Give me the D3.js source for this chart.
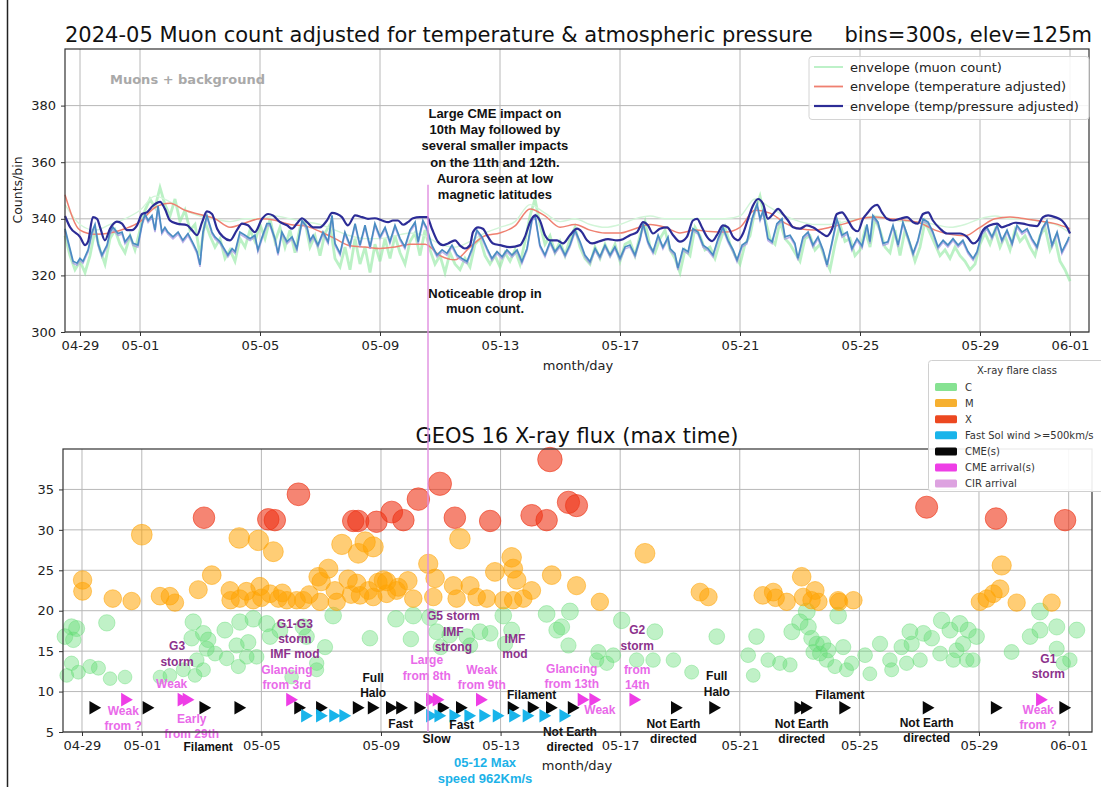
<!DOCTYPE html>
<html>
<head>
<meta charset="utf-8">
<script src="https://cdn.jsdelivr.net/npm/d3@7"></script>
<style>
body{margin:0;background:#fff;}
text{font-family:"DejaVu Sans",sans-serif;}
.ann{font-family:"Liberation Sans",Arial,sans-serif;font-weight:bold;}
</style>
</head>
<body>
<script>
// time axis: day offsets from 2024-04-29 00:00 UTC
var t0=Date.UTC(2024,3,29);
function day(d){return new Date(t0+d*864e5);}

var tickDays=[0,2,6,10,14,18,22,26,30,33];
var topTicks=[300,320,340,360,380];
var botTicks=[5,10,15,20,25,30,35];

// ---------- muon data (top) ----------
// raw muon count, every 4 h from 04-28 12:00
var greenRaw=[334,327,322,325,321,327,336,329,324,333,
336,331,328,334,329,336,343,347,344,351,
345,341,347,339,343,336,338,327,339,334,
330,333,326,329,325,333,330,336,332,338,
333,340,332,337,330,336,328,337,339,330,
334,327,335,338,326,323,330,322,333,324,
330,321,331,325,333,326,334,328,324,332,
335,327,336,329,324,327,321,328,324,322,
326,323,331,333,327,324,327,323,328,325,
329,324,332,341,347,338,331,334,328,332,
327,333,337,330,326,324,330,326,331,327,
331,325,331,332,327,334,339,330,328,333,
336,329,326,321,329,327,337,334,329,330,
326,332,337,331,327,324,331,334,343,348,
340,333,331,339,333,331,328,325,333,334,
329,331,326,322,331,338,332,333,327,329,
336,330,340,336,330,328,336,327,336,331,
325,330,339,335,331,327,329,326,330,327,
325,322,324,331,335,331,336,330,334,329,
336,332,334,330,327,334,337,329,333,325,
322,318];
// envelopes, every 12 h from 04-28 12:00
var greenEnv=[345,338,336,338,340,343,348,346,343,341,340,339,340,340,341,340,339,338,336,334,
333,333,334,335,334,331,330,332,335,337,339,345,342,339,340,338,337,338,340,341,
340,340,340,340,340,341,347,344,341,339,338,338,339,340,341,340,339,339,338,337,
338,340,341,340,340,339,338,335];
var tempEnv=[348.5,336,334.5,335,336.5,339,344,345.5,343,341.5,340,337,338.5,340,339.5,338,337.5,335.5,333,330.5,
330,329.5,330,331,331,327,325.5,330,334,335,337.5,343.5,341,337,338,336,335,335,336.5,338,
337,335,336,335.5,335.3,337,343,342,338.5,336.5,336,337,338.3,340,340.6,340,339.5,338.5,336,334.5,
334,337,340,340.6,340,339.2,338.3,336.5];
// temp/pressure adjusted envelope [day, count]
var tpEnv=[[-0.5,341],[-0.33,337],[0,333.6],[0.17,330.7],[0.27,332],[0.43,340.6],[0.57,340],[0.67,337],[0.83,332.4],[1.0,336.5],[1.23,339],[1.4,338.3],[1.57,336],[1.73,336],[1.9,337.7],[2.07,341.7],[2.23,342.3],[2.43,344.6],[2.67,346],[2.83,343.5],[3.0,339.4],[3.23,338.3],[3.57,337.7],[3.73,336],[3.9,334.2],[4.07,338.8],[4.23,342.6],[4.4,341.7],[4.57,336.5],[4.77,333.6],[5.0,332.4],[5.23,336],[5.4,338.3],[5.6,337.7],[5.83,335.3],[6.07,340],[6.27,341.7],[6.43,341.2],[6.67,338.8],[6.9,337.7],[7.07,336.5],[7.23,338.3],[7.4,340.2],[7.57,338.8],[7.77,337],[8.0,337],[8.23,339.4],[8.4,342.1],[8.57,341.7],[8.73,340.6],[8.93,337.7],[9.17,341.2],[9.4,340.6],[9.6,340],[9.83,340.2],[10.07,339.4],[10.27,338.8],[10.43,339.4],[10.6,339.4],[10.77,337.9],[10.93,338.8],[11.1,340.2],[11.33,340.6],[11.57,340.6],[11.73,336.5],[11.93,331.9],[12.1,330.7],[12.27,331.3],[12.5,332.4],[12.67,330.5],[12.83,329.5],[13.0,330.7],[13.1,335.3],[13.27,337],[13.43,336.5],[13.6,333.6],[13.77,331.3],[14.0,330.7],[14.33,330],[14.67,330.7],[14.83,333.6],[15.0,338.8],[15.17,341.2],[15.33,339.4],[15.5,334.2],[15.67,332.4],[15.9,332.4],[16.1,331.3],[16.33,334.2],[16.57,336.5],[16.73,335.3],[16.9,332.4],[17.07,331.3],[17.33,332.1],[17.6,332.8],[17.9,332.4],[18.1,332.8],[18.33,334.2],[18.57,335.3],[18.77,338.8],[18.93,337.7],[19.1,334.8],[19.33,336.5],[19.57,337],[19.77,334.2],[20.0,331.9],[20.23,333.6],[20.43,339.4],[20.57,340],[20.73,337],[20.9,333.6],[21.07,332.1],[21.23,334.2],[21.43,337.7],[21.6,337],[21.77,333.6],[21.93,332.4],[22.1,334.8],[22.27,340],[22.43,344.6],[22.6,347],[22.77,345.2],[22.93,340],[23.1,341.7],[23.27,343.5],[23.43,341.7],[23.6,339.4],[23.77,337],[24.0,336.5],[24.23,337.7],[24.43,337],[24.67,335.3],[24.9,333.9],[25.07,336.5],[25.23,341.7],[25.4,342.3],[25.57,340],[25.77,336.5],[25.93,335.6],[26.1,340],[26.27,342.3],[26.4,344],[26.57,344.9],[26.73,342.3],[26.9,340],[27.1,339.4],[27.33,340],[27.57,340.6],[27.77,338.8],[27.93,338.3],[28.1,341.7],[28.27,342.3],[28.43,339.4],[28.67,336.5],[28.9,334.8],[29.1,334.8],[29.33,334.8],[29.57,333.6],[29.77,331.3],[29.93,332.4],[30.1,336],[30.33,337.7],[30.57,338.3],[30.73,337],[30.93,337.7],[31.17,338.6],[31.43,338.3],[31.67,337.7],[31.9,337.4],[32.1,340.6],[32.27,341.2],[32.5,340.6],[32.73,339.4],[32.9,337],[33.0,334.8]];
// temp/pressure adjusted count [day, count]
var tpRaw=[[-0.5,336.5],[-0.23,325],[-0.1,324.3],[0,326],[0.1,325],[0.27,329],[0.4,335.3],[0.5,338],[0.6,331.3],[0.73,327.2],[0.9,330.7],[1.0,335.3],[1.1,337],[1.27,334.8],[1.4,335.3],[1.5,331.9],[1.67,334.2],[1.77,331.3],[1.93,330.7],[2.07,338.3],[2.17,341.7],[2.27,339.4],[2.4,341.2],[2.5,336],[2.6,344.6],[2.73,335.3],[2.83,337],[2.93,335.3],[3.1,333.6],[3.27,335.3],[3.43,332.4],[3.6,334.8],[3.77,331.3],[3.9,328.4],[4.0,323.7],[4.1,335.3],[4.23,341.2],[4.4,335.3],[4.5,333.6],[4.67,331.9],[4.83,329],[4.93,327.2],[5.07,329.5],[5.17,328.4],[5.33,335.3],[5.5,334.2],[5.67,333],[5.83,334.2],[5.93,329],[6.07,333.6],[6.23,338.3],[6.33,338.3],[6.5,333],[6.6,327.8],[6.73,335.3],[6.9,331.9],[7.07,333.6],[7.23,329.5],[7.4,339.4],[7.57,337],[7.67,332.4],[7.77,334.2],[7.93,330.7],[8.1,335.3],[8.27,331.9],[8.4,341.2],[8.5,331.3],[8.67,327.8],[8.83,335.3],[9.0,330.7],[9.17,338.3],[9.33,330.7],[9.5,337.7],[9.67,330.1],[9.83,338.3],[10.0,333.6],[10.17,337],[10.33,331.9],[10.5,337.7],[10.67,333],[10.83,330.1],[11.0,336],[11.17,338.8],[11.27,331.9],[11.43,339.4],[11.57,336.5],[11.73,330.7],[11.9,327.2],[12.07,329],[12.23,327.8],[12.4,330.7],[12.57,327.2],[12.73,326],[12.9,324.9],[13.07,329.5],[13.23,336],[13.4,333.6],[13.57,329.5],[13.73,326],[13.9,328.4],[14.07,326.6],[14.23,329],[14.4,327.2],[14.57,329],[14.73,324.9],[14.9,329.5],[15.07,340],[15.17,341.2],[15.33,330.7],[15.5,327.2],[15.67,331.9],[15.83,328.4],[16.0,330.7],[16.17,327.2],[16.33,330.7],[16.5,336],[16.67,331.9],[16.83,327.2],[17.0,324.9],[17.17,329.5],[17.33,326.6],[17.5,330.7],[17.67,327.2],[17.83,330.1],[18.0,326],[18.17,330.1],[18.33,330.7],[18.5,327.2],[18.67,333],[18.77,338.3],[18.93,331.9],[19.1,328.4],[19.27,334.2],[19.43,330],[19.6,333.5],[19.67,329.5],[19.83,327.8],[19.93,322.6],[20.1,329.5],[20.27,328.4],[20.43,336.5],[20.6,335.3],[20.77,330.7],[20.93,329.5],[21.1,327.2],[21.27,333],[21.43,337],[21.6,332.4],[21.77,329],[21.9,325.5],[22.07,330.7],[22.23,331.9],[22.4,340],[22.57,345.2],[22.67,340],[22.77,342.9],[22.93,333],[23.07,331.9],[23.23,338.3],[23.4,340],[23.5,333.6],[23.67,334.2],[23.83,331.3],[23.93,326],[24.1,333.6],[24.27,335.3],[24.43,330.7],[24.6,333.6],[24.77,329],[24.9,323.7],[25.07,331.9],[25.23,340],[25.4,334.2],[25.57,335.3],[25.73,329.5],[25.9,333],[26.07,330.4],[26.23,338],[26.33,331.9],[26.43,341.2],[26.6,338.8],[26.77,331.3],[26.93,331.9],[27.1,337.7],[27.27,330.7],[27.43,338.8],[27.6,333.6],[27.77,327.8],[27.93,332.4],[28.1,340],[28.27,338.8],[28.43,335.3],[28.6,330.1],[28.77,332.4],[28.93,330.7],[29.1,333],[29.27,330.7],[29.43,332.4],[29.6,328.4],[29.77,326],[29.9,328.4],[30.07,335.3],[30.23,337],[30.4,333.6],[30.57,337.7],[30.73,332.4],[30.9,336],[31.07,331.3],[31.23,337.7],[31.4,335.3],[31.57,336.5],[31.73,333],[31.9,330.1],[32.07,336.5],[32.23,339.4],[32.4,330.7],[32.57,335.3],[32.73,328.4],[32.9,331.9],[32.97,333.6]];

var topLegend=['envelope (muon count)','envelope (temperature adjusted)','envelope (temp/pressure adjusted)'];
var topLegendColors=['#b6f0c2','#ef8070','#2c2c96'];

// ---------- X-ray flares (bottom) [day, value] ----------
var flareC=[[-0.57,16.8],[-0.35,18.0],[-0.18,17.8],[-0.29,16.4],[-0.51,12.0],[-0.35,13.5],[-0.12,12.4],[0.27,13.1],[0.55,12.9],[0.83,18.5],[0.94,11.6],[1.44,11.8],[2.61,11.8],[2.94,12.0],[3.39,12.7],[3.72,18.6],[3.67,16.6],[3.84,13.9],[4.06,17.2],[4.22,16.4],[4.17,15.3],[3.78,12.0],[4.06,12.7],[4.45,14.7],[4.78,17.6],[4.84,14.1],[5.23,13.1],[5.17,15.7],[5.28,18.6],[5.51,14.3],[5.56,16.1],[5.73,19.0],[5.84,14.3],[6.18,18.4],[6.29,16.8],[6.62,17.6],[7.01,11.8],[7.4,18.0],[7.51,16.8],[7.85,13.5],[7.85,12.7],[8.13,15.5],[8.4,19.4],[9.63,16.6],
[10.5,19.0],[11.0,16.5],[11.08,19.4],[11.64,19.2],[11.86,17.4],[12.0,15.5],[12.3,17.0],[12.87,16.8],[12.98,15.7],[13.31,17.4],[13.65,17.2],[14.09,19.4],[14.15,15.9],[14.37,17.6],[15.54,19.6],[15.88,17.6],[16.04,18.0],[16.32,19.9],[16.27,15.7],[17.27,14.9],[17.21,13.9],[17.55,13.5],[17.77,14.5],[18.05,18.8],[18.55,13.9],[19.16,17.4],[19.1,13.9],[19.78,13.9],[20.39,12.4],[21.23,16.8],
[22.28,14.5],[22.56,16.8],[22.45,12.0],[22.95,13.9],[23.34,13.5],[23.68,13.3],[23.74,17.4],[24.01,18.6],[24.24,19.9],[24.29,18.0],[24.4,16.6],[24.57,15.9],[24.46,14.9],[24.79,15.9],[24.68,14.7],[24.96,15.1],[24.9,13.9],[25.18,13.1],[25.29,19.4],[25.46,15.5],[25.57,12.7],[25.74,13.5],[26.19,14.5],[26.35,12.2],[26.69,15.9],[27.02,13.9],[27.08,12.7],[27.41,15.5],[27.58,13.5],[27.69,17.4],[27.75,15.9],[28.03,13.9],[28.14,17.2],[28.42,16.6],[28.7,14.7],[28.75,18.8],[29.03,17.6],[29.14,13.9],[29.25,15.1],[29.36,18.4],[29.47,15.9],[29.59,13.9],[29.64,17.6],[29.8,13.9],[29.92,16.8],[31.09,14.9],[31.71,16.8],[32.04,19.9],[32.04,17.6],[32.6,18.0],[32.6,15.3],[32.82,13.5],[33.04,13.9],[33.27,17.6]];
var flareM=[[0.02,23.8],[0.02,22.4],[1.03,21.5],[1.66,21.2],[2.0,29.4],[2.61,21.8],[2.94,21.8],[3.11,21.0],[3.89,22.6],[4.34,24.4],[4.95,22.5],[4.97,21.3],[5.28,21.5],[5.26,29.0],[5.5,22.4],[5.73,21.3],[5.9,28.7],[5.95,23.0],[6.0,21.6],[6.4,27.3],[6.29,22.1],[6.57,21.5],[6.7,22.2],[6.85,21.3],[7.18,21.3],[7.4,21.3],[7.6,22.0],[7.9,24.2],[8.0,23.6],[8.24,25.2],[7.96,21.1],[8.46,22.5],[8.52,21.1],[8.69,28.2],[8.9,23.9],[9.0,22.0],[9.24,27.1],[9.47,28.5],[9.74,27.9],[9.19,23.4],[9.3,21.9],[9.58,22.5],[9.74,21.7],[9.9,23.5],[10.08,23.8],[10.19,22.1],[10.52,22.5],[10.19,23.6],[10.58,22.9],[10.9,23.7],[11.08,21.5],[11.58,25.8],[11.81,24.0],[11.75,21.7],[12.64,28.9],[12.42,23.1],[12.53,21.5],[12.98,23.1],[13.2,21.7],[13.54,21.5],[13.81,24.8],[14.09,21.3],[14.37,26.6],[14.42,25.2],[14.54,23.8],[14.42,21.3],[14.76,21.5],[15.04,22.5],[15.71,24.4],[16.54,23.1],[17.32,21.1],[18.83,27.1],[20.67,22.3],[20.95,21.7],[22.77,21.9],[23.12,22.3],[23.2,21.6],[23.57,21.1],[24.07,24.2],[24.12,21.7],[24.52,22.5],[24.4,21.3],[24.63,21.1],[25.29,21.3],[25.32,21.1],[25.8,21.3],[30.03,21.1],[30.26,21.5],[30.48,22.1],[30.7,22.7],[30.76,25.6],[31.26,21.0],[32.43,21.0]];
var flareX=[[4.08,31.5],[6.23,31.3],[6.45,31.2],[7.24,34.4],[9.07,31.1],[9.24,31.1],[9.85,31.0],[10.36,32.2],[10.75,31.2],[11.25,33.8],[11.97,35.7],[12.47,31.5],[13.65,31.1],[15.04,31.8],[15.54,31.2],[15.65,38.7],[16.27,33.4],[16.54,33.0],[28.25,32.8],[30.57,31.4],[32.88,31.2]];

var cmeDays=[0.38,2.16,4.06,5.23,7.23,7.96,9.19,9.69,10.3,10.64,11.25,12.03,12.64,14.37,15.04,15.65,16.38,19.83,21.11,23.96,24.18,25.46,28.25,30.53,32.82];
var windDays=[7.46,7.96,8.4,8.74,11.64,11.92,12.42,12.92,13.42,13.87,14.42,14.87,15.43,16.1];
var arrivalDays=[1.44,3.33,3.5,6.96,11.64,11.86,13.31,16.71,17.1,18.44,32.04];
var cmeLevel=8, windLevel=7, arrivalLevel=9;
var bigImpactDay=11.6;

var botLegend=['C','M','X','Fast Sol wind >=500km/s','CME(s)','CME arrival(s)','CIR arrival'];
var botLegendColors=['#86e292','#f6b030','#ec4820','#19b4ea','#080808','#ee3ee6','#dda2e0'];

var notes=[
{lines:['G3','storm'],d:3.18,v:15.6,k:'storm'},
{lines:['G1-G3','storm','IMF mod'],d:7.12,v:18.42,k:'storm'},
{lines:['G5 storm','IMF','strong'],d:12.42,v:19.32,k:'storm'},
{lines:['IMF','mod'],d:14.48,v:16.57,k:'storm'},
{lines:['G2','storm'],d:18.57,v:17.59,k:'storm'},
{lines:['G1','storm'],d:32.32,v:14.1,k:'storm'},
{lines:['Weak'],d:3.0,v:11.0,k:'arr'},
{lines:['Weak','from ?'],d:1.38,v:7.63,k:'arr'},
{lines:['Early','from 29th'],d:3.67,v:6.69,k:'arr'},
{lines:['Glancing','from 3rd'],d:6.85,v:12.74,k:'arr'},
{lines:['Large','from 8th'],d:11.53,v:13.89,k:'arr'},
{lines:['Weak','from 9th'],d:13.37,v:12.74,k:'arr'},
{lines:['Glancing','from 13th'],d:16.38,v:12.86,k:'arr'},
{lines:['from','14th'],d:18.57,v:12.74,k:'arr'},
{lines:['Weak'],d:17.32,v:7.72,k:'arr'},
{lines:['Weak','from ?'],d:31.98,v:7.8,k:'arr'},
{lines:['Filament'],d:4.22,v:3.19,k:'cme'},
{lines:['Full','Halo'],d:9.74,v:11.75,k:'cme'},
{lines:['Fast'],d:10.66,v:5.99,k:'cme'},
{lines:['Fast'],d:12.7,v:5.86,k:'cme'},
{lines:['Slow'],d:11.86,v:4.1,k:'cme'},
{lines:['Filament'],d:15.04,v:9.65,k:'cme'},
{lines:['Not Earth','directed'],d:16.32,v:5.04,k:'cme'},
{lines:['Not Earth','directed'],d:19.78,v:6.07,k:'cme'},
{lines:['Full','Halo'],d:21.23,v:11.91,k:'cme'},
{lines:['Filament'],d:25.35,v:9.57,k:'cme'},
{lines:['Not Earth','directed'],d:24.07,v:6.07,k:'cme'},
{lines:['Not Earth','directed'],d:28.25,v:6.15,k:'cme'},
{lines:['05-12 Max','speed 962Km/s'],d:13.48,v:1.26,k:'wind'}
];
var noteColors={storm:'#8c328c',arr:'#e96ae9',cme:'#111111',wind:'#1cb2e8'};

var impactNote=['Large CME impact on','10th May followed by','several smaller impacts','on the 11th and 12th.','Aurora seen at low','magnetic latitudes'];
var dropNote=['Noticeable drop in','muon count.'];

// ---------- drawing ----------
var svg=d3.select('body').append('svg').attr('width',1101).attr('height',787);

var xTop=d3.scaleUtc().domain([day(-0.5),day(33.633)]).range([65,1089]);
var yTop=d3.scaleLinear().domain([300,400]).range([332,49]);
var xBot=d3.scaleUtc().domain([day(-0.635),day(33.78)]).range([63,1092]);
var yBot=d3.scaleLinear().domain([5,40]).range([732,449]);
var rScale=d3.scaleLinear().domain([10,40]).range([6.5,12.5]);

svg.append('line').attr('x1',7.5).attr('x2',7.5).attr('y1',0).attr('y2',787)
.style('stroke','#222').style('stroke-width',1.5);

function drawFrame(x,y,yt){
    var g=svg.append('g');
    g.selectAll('.vg').data(tickDays).enter().append('line')
    .attr('x1',d=>x(day(d))).attr('x2',d=>x(day(d)))
    .attr('y1',y.range()[0]).attr('y2',y.range()[1])
    .style('stroke','#b8b8b8').style('stroke-width',1);
    g.selectAll('.hg').data(yt).enter().append('line')
    .attr('x1',x.range()[0]).attr('x2',x.range()[1])
    .attr('y1',d=>y(d)).attr('y2',d=>y(d))
    .style('stroke','#b8b8b8').style('stroke-width',1);
    var xa=g.append('g').attr('transform','translate(0,'+y.range()[0]+')')
    .call(d3.axisBottom(x).tickValues(tickDays.map(day)).tickFormat(d3.utcFormat('%m-%d')).tickSize(4).tickPadding(5));
    var ya=g.append('g').attr('transform','translate('+x.range()[0]+',0)')
    .call(d3.axisLeft(y).tickValues(yt).tickSize(4).tickPadding(5));
    [xa,ya].forEach(a=>{
        a.select('.domain').remove();
        a.selectAll('line').style('stroke','#333');
        a.selectAll('text').style('font-size','13px').style('fill','#222').style('font-family','DejaVu Sans');
    });
    return g;
}
function drawBorder(x,y){
    svg.append('rect').attr('x',x.range()[0]).attr('y',y.range()[1])
    .attr('width',x.range()[1]-x.range()[0]).attr('height',y.range()[0]-y.range()[1])
    .style('fill','none').style('stroke','#333').style('stroke-width',1.2);
}

// ---- top panel ----
drawFrame(xTop,yTop,topTicks);
var lineP=d3.line().x(p=>xTop(day(p[0]))).y(p=>yTop(p[1]));
var lineS=d3.line().x(p=>xTop(day(p[0]))).y(p=>yTop(p[1])).curve(d3.curveMonotoneX);

svg.append('path').datum(greenRaw.map((v,i)=>[-0.5+i/6,v])).attr('d',lineP)
.style('fill','none').style('stroke','#8ee89e').style('stroke-width',2.8).style('opacity',0.6);
svg.append('path').datum(greenEnv.map((v,i)=>[-0.5+i*0.5,v])).attr('d',lineS)
.style('fill','none').style('stroke','#d2f5d8').style('stroke-width',1.4);
svg.append('path').datum(tempEnv.map((v,i)=>[-0.5+i*0.5,v])).attr('d',lineS)
.style('fill','none').style('stroke',topLegendColors[1]).style('stroke-width',1.5);
svg.append('path').datum(tpRaw).attr('d',lineP).attr('transform','translate(0,2)')
.style('fill','none').style('stroke','#a08ee0').style('stroke-width',1.6).style('opacity',0.7);
svg.append('path').datum(tpRaw).attr('d',lineP)
.style('fill','none').style('stroke','#4a8cc2').style('stroke-width',1.7);
svg.append('path').datum(tpEnv).attr('d',lineS)
.style('fill','none').style('stroke',topLegendColors[2]).style('stroke-width',2.2);
drawBorder(xTop,yTop);

svg.append('text').attr('x',xTop(day(1.0))).attr('y',yTop(389.2)).attr('dy','0.35em')
.text('Muons + background').style('font-weight','bold').style('font-size','13px').style('fill','#a9a9a9');

var imp=svg.append('text').attr('class','ann').attr('text-anchor','middle').style('font-size','13px').style('fill','#111');
impactNote.forEach((l,i)=>imp.append('tspan').attr('x',xTop(day(13.83))).attr('y',yTop(377.2)+i*16.2).attr('dy','0.35em').text(l));
var drp=svg.append('text').attr('class','ann').attr('text-anchor','middle').style('font-size','13px').style('fill','#111');
dropNote.forEach((l,i)=>drp.append('tspan').attr('x',xTop(day(13.5))).attr('y',yTop(313.6)+i*15).attr('dy','0.35em').text(l));

// top legend
var tl=svg.append('g');
tl.append('rect').attr('x',809).attr('y',56.5).attr('width',280).attr('height',63).attr('rx',3)
.style('fill','#fff').style('fill-opacity',0.85).style('stroke','#d4d4d4');
topLegend.forEach((t,i)=>{
    tl.append('line').attr('x1',814).attr('x2',843).attr('y1',67+i*19.5).attr('y2',67+i*19.5)
    .style('stroke',topLegendColors[i]).style('stroke-width',i==2?2.2:1.8);
    tl.append('text').attr('x',850).attr('y',67+i*19.5).attr('dy','0.35em').text(t)
    .style('font-size','13px').style('fill','#222');
});

// titles and axis labels
svg.append('text').attr('x',65).attr('y',42).text('2024-05 Muon count adjusted for temperature & atmospheric pressure')
.style('font-size','21px').style('fill','#111');
svg.append('text').attr('x',1092).attr('y',42).attr('text-anchor','end').text('bins=300s, elev=125m')
.style('font-size','21px').style('fill','#111');
svg.append('text').attr('transform','translate(22,190) rotate(-90)').attr('text-anchor','middle')
.text('Counts/bin').style('font-size','12.5px').style('fill','#222');
svg.append('text').attr('x',578).attr('y',370).attr('text-anchor','middle')
.text('month/day').style('font-size','13px').style('fill','#222');

// ---- bottom panel ----
drawFrame(xBot,yBot,botTicks);
svg.append('text').attr('x',577).attr('y',443).attr('text-anchor','middle')
.text('GEOS 16 X-ray flux (max time)').style('font-size','21px').style('fill','#111');
svg.append('text').attr('x',577).attr('y',770).attr('text-anchor','middle')
.text('month/day').style('font-size','13px').style('fill','#222');

function flares(data,col,op){
    svg.append('g').selectAll('circle').data(data).enter().append('circle')
    .attr('cx',p=>xBot(day(p[0]))).attr('cy',p=>yBot(p[1])).attr('r',p=>rScale(p[1]))
    .style('fill',col).style('fill-opacity',op)
    .style('stroke',col).style('stroke-opacity',op).style('stroke-width',1);
}
flares(flareC,'#62dc74',0.4);
flares(flareM,'#ffa404',0.55);
flares(flareX,'#ee3416',0.6);

var tri=d3.symbol().type(d3.symbolTriangle).size(80);
function markers(days,level,col){
    svg.append('g').selectAll('path').data(days).enter().append('path')
    .attr('d',tri)
    .attr('transform',d=>'translate('+xBot(day(d))+','+yBot(level)+') rotate(90)')
    .style('fill',col);
}
markers(cmeDays,cmeLevel,botLegendColors[4]);
markers(windDays,windLevel,botLegendColors[3]);
markers(arrivalDays,arrivalLevel,botLegendColors[5]);

notes.forEach(n=>{
    var big=n.k=='wind';
    var t=svg.append('text').attr('class','ann').attr('text-anchor','middle')
    .style('font-size',big?'13px':'12px').style('fill',noteColors[n.k]);
    n.lines.forEach((l,i)=>t.append('tspan').attr('x',xBot(day(n.d)))
    .attr('y',yBot(n.v)+i*(big?16:15.3)).attr('dy','0.35em').text(l));
});
drawBorder(xBot,yBot);

// CME impact line through both panels
svg.append('line').attr('x1',xTop(day(bigImpactDay))).attr('x2',xTop(day(bigImpactDay)))
.attr('y1',yTop(352)).attr('y2',yBot(5))
.style('stroke','#e08ee0').style('stroke-width',1.4);

// bottom legend
var bl=svg.append('g');
bl.append('rect').attr('x',928.5).attr('y',360.5).attr('width',190).attr('height',131).attr('rx',3)
.style('fill','#fff').style('fill-opacity',0.9).style('stroke','#d0d0d0');
bl.append('text').attr('x',1017).attr('y',370).attr('dy','0.35em').attr('text-anchor','middle')
.text('X-ray flare class').style('font-size','10px').style('fill','#333');
botLegend.forEach((t,i)=>{
    bl.append('rect').attr('x',935).attr('y',383+i*16.1).attr('width',22).attr('height',8).attr('rx',1.5)
    .style('fill',botLegendColors[i]);
    bl.append('text').attr('x',965).attr('y',387+i*16.1).attr('dy','0.35em').text(t)
    .style('font-size','10px').style('fill','#333');
});
</script>
</body>
</html>
